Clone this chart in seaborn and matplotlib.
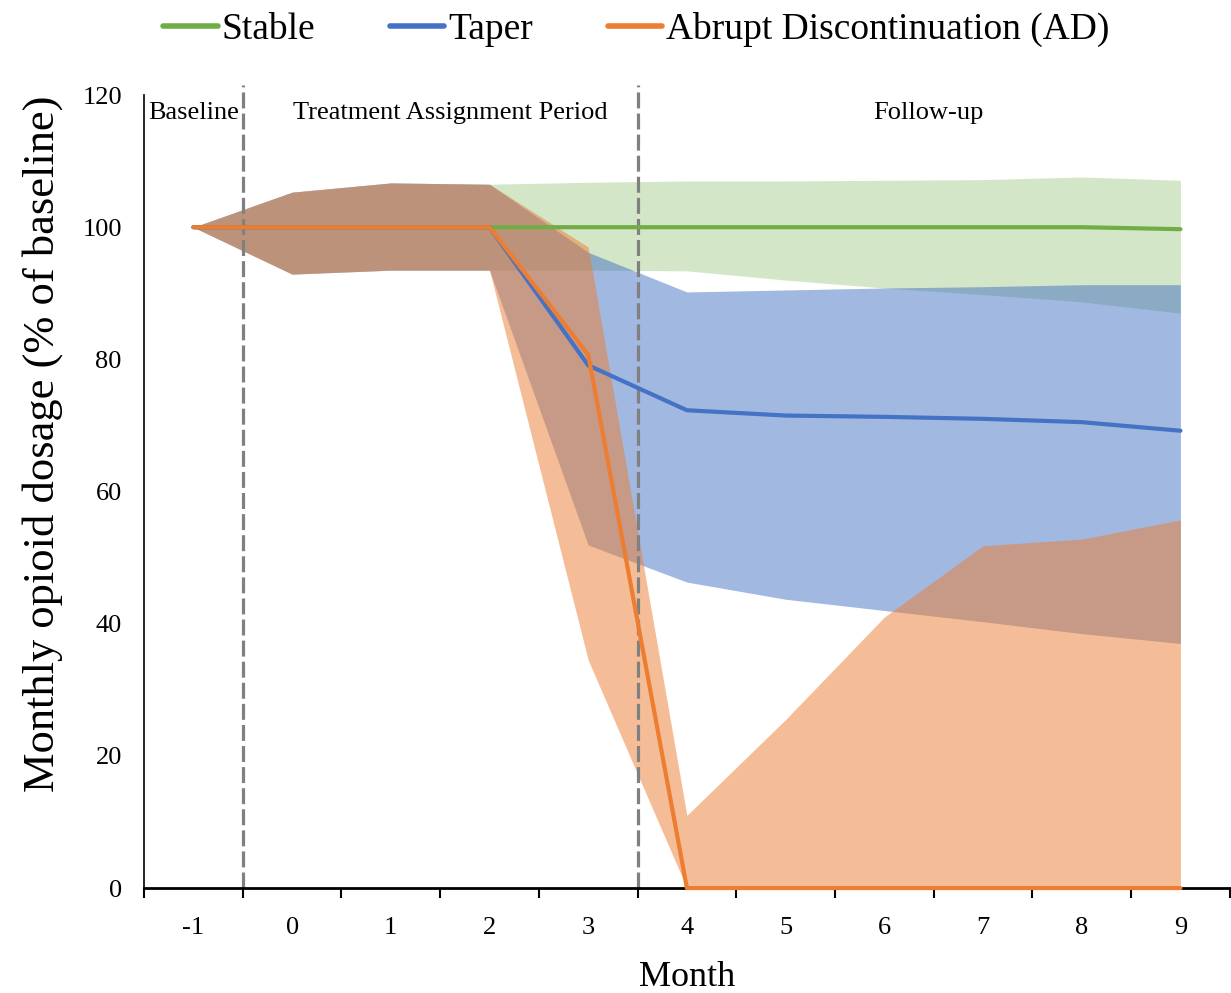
import numpy as np
import pandas as pd
import matplotlib
matplotlib.use("Agg")
import matplotlib.pyplot as plt
import seaborn as sns

# Months relative to treatment assignment
months = [-1, 0, 1, 2, 3, 4, 5, 6, 7, 8, 9]
groups = ["Stable", "Taper", "Abrupt Discontinuation (AD)"]
colors = ["#70AD47", "#4472C4", "#ED7D31"]

# Mean monthly opioid dosage (% of baseline)
stable_mean = [100, 100, 100, 100, 100, 100, 100, 100, 100, 100.0, 99.7]
taper_mean = [100, 100, 100, 100, 79.1, 72.3, 71.5, 71.3, 71.0, 70.5, 69.2]
ad_mean = [100, 100, 100, 100, 80.7, 0, 0, 0, 0, 0, 0]

# Interval bands
stable_upper = [100, 105.3, 106.7, 106.5, 106.8, 107.0, 107.0, 107.1, 107.2, 107.6, 107.1]
stable_lower = [100, 92.9, 93.5, 93.5, 93.5, 93.4, 92.0, 90.8, 89.8, 88.7, 87.0]
taper_upper = [100, 105.3, 106.7, 106.5, 96.2, 90.2, 90.5, 90.8, 91.0, 91.3, 91.3]
taper_lower = [100, 92.9, 93.5, 93.5, 51.9, 46.3, 43.7, 42.0, 40.3, 38.5, 37.0]
ad_upper = [100, 105.3, 106.7, 106.5, 97.0, 11.0, 25.5, 41.0, 51.8, 52.8, 55.7]
ad_lower = [100, 92.9, 93.5, 93.5, 34.5, 0, 0, 0, 0, 0, 0]

period_labels = ["Baseline", "Treatment Assignment Period", "Follow-up"]
period_centers = [-1, 1.6, 6.45]
period_breaks = [-0.5, 3.5]

sns.set_theme(style="white")
plt.rcParams["font.family"] = ["Liberation Serif", "DejaVu Serif"]
plt.rcParams["text.color"] = "black"
plt.rcParams["axes.labelcolor"] = "black"
plt.rcParams["xtick.color"] = "black"
plt.rcParams["ytick.color"] = "black"

fig = plt.figure(figsize=(12.31, 9.93), dpi=100)
ax = fig.add_axes([0.117, 0.1057, 0.882, 0.7986])

# Shaded intervals, drawn green -> blue -> orange so overlaps blend
bands = [(stable_lower, stable_upper, 0.30),
         (taper_lower, taper_upper, 0.50),
         (ad_lower, ad_upper, 0.50)]
for (lo, hi, a), c in zip(bands, colors):
    ax.fill_between(months, lo, hi, color=c, alpha=a, linewidth=0, zorder=1)

df = pd.DataFrame({
    "Month": months * 3,
    "Dosage": stable_mean + taper_mean + ad_mean,
    "Group": [g for g in groups for _ in months],
})
sns.lineplot(data=df, x="Month", y="Dosage", hue="Group", hue_order=groups,
             palette=colors, linewidth=3, errorbar=None, ax=ax, zorder=3,
             solid_capstyle="round", clip_on=False)

# Period separators
for xb in period_breaks:
    ax.plot([xb, xb], [0, 121.5], color="#808080", linewidth=2.3,
            linestyle=(0, (5, 1.6)), clip_on=False, zorder=2)

for lbl, xc in zip(period_labels, period_centers):
    ax.text(xc, 117.3, lbl, ha="center", va="center", fontsize=19, color="black")

ax.set_xlim(-1.5, 9.5)
ax.set_ylim(0, 120)
ax.set_xticks(months)
ax.set_xticklabels([str(m) for m in months])
ax.set_xticks(np.arange(-1.5, 9.6, 1.0), minor=True)
ax.set_yticks(np.arange(0, 121, 20))
ax.tick_params(axis="x", which="major", length=0, pad=21, labelsize=19)
ax.tick_params(axis="x", which="minor", direction="out", length=7, width=1.5,
               color="black", bottom=True)
ax.tick_params(axis="y", length=0, pad=16, labelsize=19)

for s in ["top", "right"]:
    ax.spines[s].set_visible(False)
ax.spines["bottom"].set_color("black")
ax.spines["bottom"].set_linewidth(2)
ax.spines["bottom"].set_zorder(2.5)
ax.spines["left"].set_color("black")
ax.spines["left"].set_linewidth(1.2)

ax.set_xlabel("Month", fontsize=26, labelpad=16)
ax.set_ylabel("Monthly opioid dosage (% of baseline)", fontsize=32)
ax.yaxis.set_label_coords(-0.075, 0.56)

sns.move_legend(ax, "center", bbox_to_anchor=(0.517, 0.97),
                bbox_transform=fig.transFigure, ncol=3, frameon=False,
                title=None, fontsize=27, handlelength=1.45, handletextpad=0.1,
                columnspacing=2.0)
for line in ax.get_legend().get_lines():
    line.set_linewidth(4)

fig.savefig("out.png", dpi=100, facecolor="white")
